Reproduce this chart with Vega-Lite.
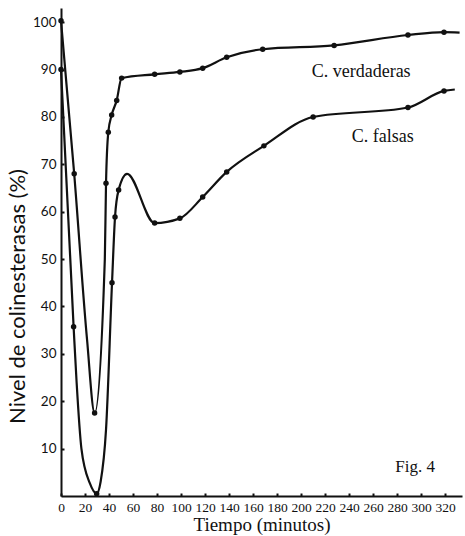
{
  "$schema": "https://vega.github.io/schema/vega-lite/v6.json",
  "width": 401,
  "height": 488,
  "autosize": {"type": "none"},
  "padding": {"left": 61, "top": 8, "right": 3, "bottom": 40},
  "background": "white",
  "config": {"view": {"stroke": null}, "axis": {"labelOverlap": false, "labelSeparation": 0}},
  "datasets": {
    "curves": [
      {"serie": "C. verdaderas", "t": 0, "v": 100.3, "dot": true},
      {"serie": "C. verdaderas", "t": 11, "v": 68, "dot": true},
      {"serie": "C. verdaderas", "t": 21.7, "v": 33, "dot": false},
      {"serie": "C. verdaderas", "t": 28, "v": 17.5, "dot": true},
      {"serie": "C. verdaderas", "t": 36.5, "v": 50, "dot": false},
      {"serie": "C. verdaderas", "t": 37.5, "v": 66, "dot": true},
      {"serie": "C. verdaderas", "t": 39.4, "v": 76.8, "dot": true},
      {"serie": "C. verdaderas", "t": 42.2, "v": 80.4, "dot": true},
      {"serie": "C. verdaderas", "t": 46.4, "v": 83.5, "dot": true},
      {"serie": "C. verdaderas", "t": 50.5, "v": 88.2, "dot": true},
      {"serie": "C. verdaderas", "t": 78, "v": 89, "dot": true},
      {"serie": "C. verdaderas", "t": 99, "v": 89.5, "dot": true},
      {"serie": "C. verdaderas", "t": 118, "v": 90.3, "dot": true},
      {"serie": "C. verdaderas", "t": 138, "v": 92.6, "dot": true},
      {"serie": "C. verdaderas", "t": 168, "v": 94.3, "dot": true},
      {"serie": "C. verdaderas", "t": 227.5, "v": 95.1, "dot": true},
      {"serie": "C. verdaderas", "t": 289, "v": 97.3, "dot": true},
      {"serie": "C. verdaderas", "t": 319, "v": 97.9, "dot": true},
      {"serie": "C. verdaderas", "t": 332, "v": 97.8, "dot": false},
      {"serie": "C. falsas", "t": 0, "v": 90, "dot": true},
      {"serie": "C. falsas", "t": 10.5, "v": 35.7, "dot": true},
      {"serie": "C. falsas", "t": 13, "v": 24, "dot": false},
      {"serie": "C. falsas", "t": 17, "v": 10, "dot": false},
      {"serie": "C. falsas", "t": 24, "v": 2.7, "dot": false},
      {"serie": "C. falsas", "t": 29.7, "v": 0.5, "dot": true},
      {"serie": "C. falsas", "t": 33, "v": 3, "dot": false},
      {"serie": "C. falsas", "t": 37.5, "v": 14, "dot": false},
      {"serie": "C. falsas", "t": 42.5, "v": 45, "dot": true},
      {"serie": "C. falsas", "t": 45, "v": 58.9, "dot": true},
      {"serie": "C. falsas", "t": 48, "v": 64.6, "dot": true},
      {"serie": "C. falsas", "t": 55, "v": 68, "dot": false},
      {"serie": "C. falsas", "t": 78, "v": 57.6, "dot": true},
      {"serie": "C. falsas", "t": 99, "v": 58.6, "dot": true},
      {"serie": "C. falsas", "t": 118, "v": 63.1, "dot": true},
      {"serie": "C. falsas", "t": 138, "v": 68.4, "dot": true},
      {"serie": "C. falsas", "t": 169, "v": 73.9, "dot": true},
      {"serie": "C. falsas", "t": 210, "v": 80, "dot": true},
      {"serie": "C. falsas", "t": 289, "v": 82, "dot": true},
      {"serie": "C. falsas", "t": 319, "v": 85.5, "dot": true},
      {"serie": "C. falsas", "t": 328, "v": 85.8, "dot": false}
    ],
    "labels": [
      {"t": 250, "v": 89.4, "text": "C.  verdaderas", "bold": "normal", "size": 18},
      {"t": 268, "v": 75.7, "text": "C.  falsas", "bold": "normal", "size": 18},
      {"t": 295, "v": 6.1, "text": "Fig.  4", "bold": "bold", "size": 17}
    ]
  },
  "encoding": {
    "x": {
      "field": "t", "type": "quantitative",
      "scale": {"domain": [0, 334], "nice": false, "zero": false},
      "axis": {
        "title": "Tiempo  (minutos)",
        "values": [0, 20, 40, 60, 80, 100, 120, 140, 160, 180, 200, 220, 240, 260, 280, 300, 320],
        "grid": false,
        "domainColor": "#111", "domainWidth": 2,
        "tickColor": "#111", "tickSize": -3, "tickWidth": 2,
        "labelPadding": 7, "labelFont": "Liberation Serif", "labelFontSize": 13.5,
        "labelColor": "#111", "labelFlush": false, "labelOverlap": false, "labelBound": false,
        "titleFont": "Liberation Serif", "titleFontSize": 19, "titleFontWeight": "normal",
        "titleColor": "#111", "titlePadding": 2
      }
    },
    "y": {
      "field": "v", "type": "quantitative",
      "scale": {"domain": [0, 103], "nice": false},
      "axis": {
        "title": "Nivel de colinesterasas (%)",
        "values": [10, 20, 30, 40, 50, 60, 70, 80, 90, 100],
        "grid": false,
        "domainColor": "#111", "domainWidth": 2,
        "tickColor": "#111", "tickSize": -3, "tickWidth": 2,
        "labelPadding": 8, "labelFont": "Lato", "labelFontSize": 13.5,
        "labelColor": "#111",
        "titleFont": "Lato", "titleFontSize": 22, "titleFontWeight": "normal",
        "titleColor": "#111", "titlePadding": 3, "titleY": 288
      }
    }
  },
  "layer": [
    {
      "data": {"name": "curves"},
      "mark": {"type": "line", "interpolate": "monotone", "color": "#111", "strokeWidth": 2.2},
      "encoding": {"detail": {"field": "serie"}}
    },
    {
      "data": {"name": "curves"},
      "transform": [{"filter": "datum.dot"}],
      "mark": {"type": "circle", "color": "#111", "opacity": 1, "size": 30},
      "encoding": {}
    },
    {
      "data": {"name": "labels"},
      "mark": {"type": "text", "font": "Liberation Serif", "color": "#111"},
      "encoding": {
        "text": {"field": "text"},
        "size": {"field": "size", "type": "quantitative", "scale": null},
        "fontWeight": {"field": "bold", "type": "nominal", "scale": null}
      }
    }
  ]
}
